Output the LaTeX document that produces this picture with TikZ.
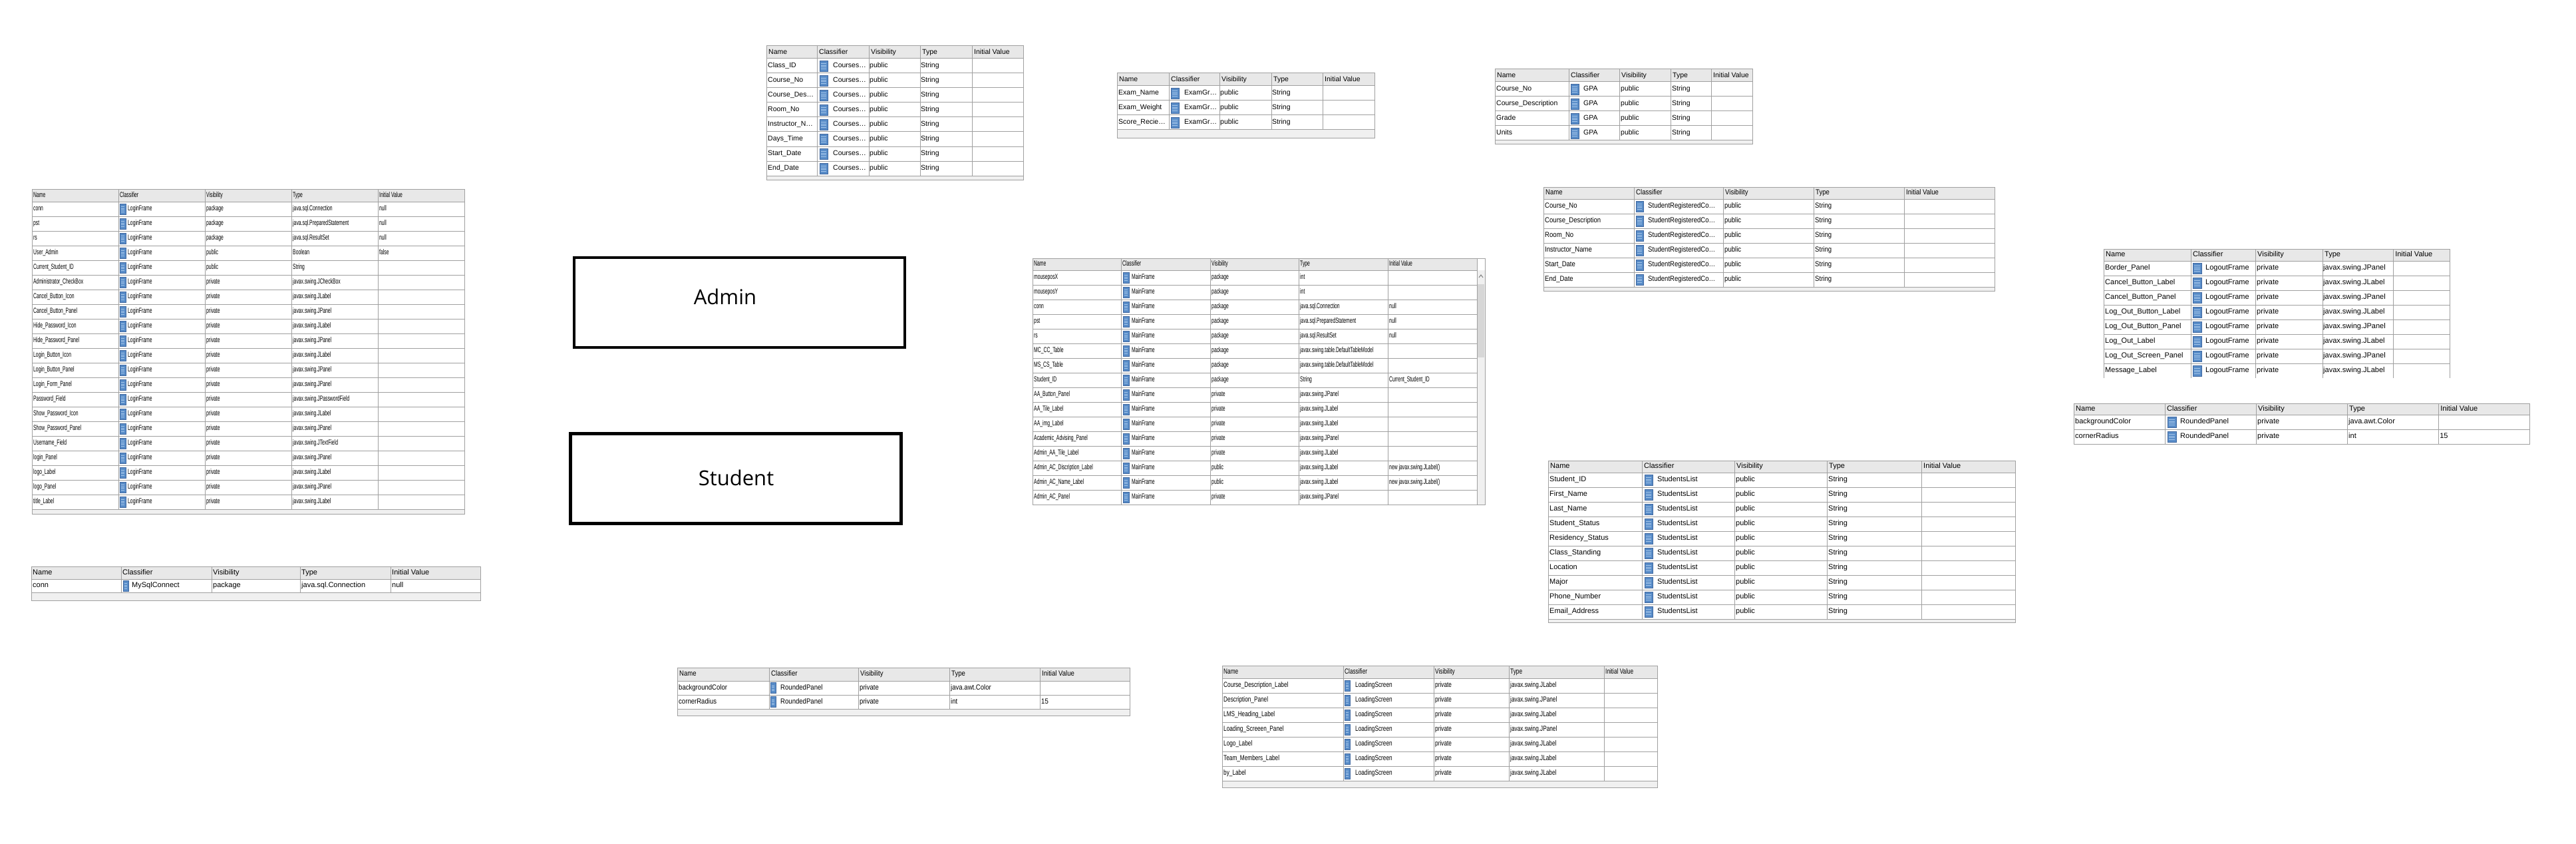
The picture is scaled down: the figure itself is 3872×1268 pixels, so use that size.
\documentclass[tikz,border=0pt]{standalone}
\usepackage{fontspec}
\setmainfont{Liberation Sans}
\newfontfamily\narrowfont[FakeStretch=0.62]{Liberation Sans}
\newfontfamily\loadfont[FakeStretch=0.75]{Liberation Sans}
\newfontfamily\semifont[FakeStretch=0.87]{Liberation Sans}
\newfontfamily\boxfont{Open Sans}
\usepackage{xcolor}
\usepackage{tikz}
\usetikzlibrary{positioning,calc}

\definecolor{gridline}{RGB}{160,160,160}
\definecolor{hdrfill}{RGB}{232,232,232}
\definecolor{stripfill}{RGB}{240,240,240}
\definecolor{thumbfill}{RGB}{215,215,215}
\definecolor{iconblue}{RGB}{88,140,200}
\definecolor{iconedge}{RGB}{64,104,160}
\definecolor{iconline}{RGB}{165,198,234}

\tikzset{
  cell/.style={anchor=west, inner sep=0pt, text height=8pt, text depth=2.5pt},
  hdrcell/.style={fill=hdrfill},
  strip/.style={fill=stripfill},
  gridrule/.style={draw=gridline, line width=1pt},
  classicon/.style={fill=iconblue, draw=iconedge, line width=0.6pt, inner sep=0pt,
    minimum width=#1, minimum height=16pt,
    path picture={\foreach \q in {0.3,0.45,0.6,0.75}
      \draw[iconline, line width=0.9pt]
        ($(path picture bounding box.north west)!\q!(path picture bounding box.south west)+(2pt,0)$) --
        ($(path picture bounding box.north east)!\q!(path picture bounding box.south east)+(-2pt,0)$);}},
  classicon/.default=11pt,
  rolebox/.style={draw=black, line width=4.5pt, minimum width=497pt, minimum height=135pt, inner sep=0pt},
  roletext/.style={font=\boxfont\fontsize{31}{36}\selectfont, inner sep=0pt}
}

\begin{document}
\catcode`\_=12
\begin{tikzpicture}[x=1pt, y=-1pt, font=\fontsize{11}{13}\selectfont]
\useasboundingbox (0,0) rectangle (3872,1268);
\fill[white] (0,0) rectangle (3872,1268);

% LoginFrame fields
\begin{scope}[font=\narrowfont\fontsize{11}{13}\selectfont]
\fill[hdrcell] (48,284) rectangle (698,303);
\fill[strip] (48,765) rectangle (698,772);
\foreach \y in {303,325,...,765} \draw[gridrule] (48,\y) -- (698,\y);
\foreach \x in {178,308,438,568} \draw[gridrule] (\x,284) -- (\x,765);
\draw[gridrule] (48,284) rectangle (698,772);
\foreach \x/\hd [count=\col] in {48/Name,178/Classifier,308/Visibility,438/Type,568/Initial Value}
  \node[cell] (login-h\col) at (\x+2,293.5) {\hd};
\foreach \nm/\vis/\typ/\ini [count=\k] in {
  conn/package/java.sql.Connection/null,
  pst/package/java.sql.PreparedStatement/null,
  rs/package/java.sql.ResultSet/null,
  User_Admin/public/Boolean/false,
  Current_Student_ID/public/String/{},
  Administrator_CheckBox/private/javax.swing.JCheckBox/{},
  Cancel_Button_Icon/private/javax.swing.JLabel/{},
  Cancel_Button_Panel/private/javax.swing.JPanel/{},
  Hide_Password_Icon/private/javax.swing.JLabel/{},
  Hide_Password_Panel/private/javax.swing.JPanel/{},
  Login_Button_Icon/private/javax.swing.JLabel/{},
  Login_Button_Panel/private/javax.swing.JPanel/{},
  Login_Form_Panel/private/javax.swing.JPanel/{},
  Password_Field/private/javax.swing.JPasswordField/{},
  Show_Password_Icon/private/javax.swing.JLabel/{},
  Show_Password_Panel/private/javax.swing.JPanel/{},
  Username_Field/private/javax.swing.JTextField/{},
  login_Panel/private/javax.swing.JPanel/{},
  logo_Label/private/javax.swing.JLabel/{},
  logo_Panel/private/javax.swing.JPanel/{},
  title_Label/private/javax.swing.JLabel/{}}{
  \pgfmathsetmacro\ry{292+22*\k}
  \node[cell] (login-\k-n) at (50,\ry) {\nm};
  \node[classicon=9pt] (login-\k-i) at (184.5,\ry) {};
  \node[cell] (login-\k-c) at (192,\ry) {LoginFrame};
  \node[cell] (login-\k-v) at (310,\ry) {\vis};
  \node[cell] (login-\k-t) at (440,\ry) {\typ};
  \node[cell] (login-\k-x) at (570,\ry) {\ini};
}
\end{scope}

% MySqlConnect fields
\fill[hdrcell] (47,851) rectangle (722,870);
\fill[strip] (47,890) rectangle (722,902);
\foreach \y in {870,890} \draw[gridrule] (47,\y) -- (722,\y);
\foreach \x in {182,318,451,587} \draw[gridrule] (\x,851) -- (\x,890);
\draw[gridrule] (47,851) rectangle (722,902);
\foreach \x/\hd [count=\col] in {47/Name,182/Classifier,318/Visibility,451/Type,587/Initial Value}
  \node[cell] (mysql-h\col) at (\x+2,860.5) {\hd};
\node[cell] (mysql-1-n) at (49,880) {conn};
\node[classicon=8pt] (mysql-1-i) at (189,880) {};
\node[cell] (mysql-1-c) at (198,880) {MySqlConnect};
\node[cell] (mysql-1-v) at (320,880) {package};
\node[cell] (mysql-1-t) at (453,880) {java.sql.Connection};
\node[cell] (mysql-1-x) at (589,880) {null};

% Admin and Student
\node[rolebox] (admin) at (1111.5,454.5) {};
\node[roletext] (admin-text) at (1090,446) {Admin};
\node[rolebox] (student) at (1106,719) {};
\node[roletext] (student-text) at (1106.5,718) {Student};

% CoursesList fields
\begin{scope}[font=\fontsize{10.5}{12}\selectfont]
\fill[hdrcell] (1152,69) rectangle (1538,88);
\fill[strip] (1152,264) rectangle (1538,270);
\foreach \y in {88,110,...,264} \draw[gridrule] (1152,\y) -- (1538,\y);
\foreach \x in {1228,1306,1383,1461} \draw[gridrule] (\x,69) -- (\x,264);
\draw[gridrule] (1152,69) rectangle (1538,270);
\foreach \x/\hd [count=\col] in {1152/Name,1228/Classifier,1306/Visibility,1383/Type,1461/Initial Value}
  \node[cell] (course-h\col) at (\x+3,78.5) {\hd};
\foreach \nm [count=\k] in {Class_ID,Course_No,Course_Des…,Room_No,Instructor_N…,Days_Time,Start_Date,End_Date}{
  \pgfmathsetmacro\ry{77+22*\k}
  \node[cell] (course-\k-n) at (1154,\ry) {\nm};
  \node[classicon=12pt] (course-\k-i) at (1238,\ry) {};
  \node[cell] (course-\k-c) at (1252,\ry) {Courses…};
  \node[cell] (course-\k-v) at (1307,\ry) {public};
  \node[cell] (course-\k-t) at (1384,\ry) {String};
}
\end{scope}

% ExamGrades fields
\begin{scope}[font=\fontsize{10.5}{12}\selectfont]
\fill[hdrcell] (1679,110) rectangle (2066,129);
\fill[strip] (1679,195) rectangle (2066,208);
\foreach \y in {129,151,...,195} \draw[gridrule] (1679,\y) -- (2066,\y);
\foreach \x in {1757,1833,1911,1988} \draw[gridrule] (\x,110) -- (\x,195);
\draw[gridrule] (1679,110) rectangle (2066,208);
\foreach \x/\hd [count=\col] in {1679/Name,1757/Classifier,1833/Visibility,1911/Type,1988/Initial Value}
  \node[cell] (exam-h\col) at (\x+3,119.5) {\hd};
\foreach \nm [count=\k] in {Exam_Name,Exam_Weight,Score_Recie…}{
  \pgfmathsetmacro\ry{118+22*\k}
  \node[cell] (exam-\k-n) at (1681,\ry) {\nm};
  \node[classicon=12pt] (exam-\k-i) at (1766,\ry) {};
  \node[cell] (exam-\k-c) at (1780,\ry) {ExamGr…};
  \node[cell] (exam-\k-v) at (1834,\ry) {public};
  \node[cell] (exam-\k-t) at (1912,\ry) {String};
}
\end{scope}

% GPA fields
\begin{scope}[font=\fontsize{10.5}{12}\selectfont]
\fill[hdrcell] (2247,104) rectangle (2634,123);
\fill[strip] (2247,211) rectangle (2634,216);
\foreach \y in {123,145,...,211} \draw[gridrule] (2247,\y) -- (2634,\y);
\foreach \x in {2358,2434,2511,2572} \draw[gridrule] (\x,104) -- (\x,211);
\draw[gridrule] (2247,104) rectangle (2634,216);
\foreach \x/\hd [count=\col] in {2247/Name,2358/Classifier,2434/Visibility,2511/Type,2572/Initial Value}
  \node[cell] (gpa-h\col) at (\x+3,113.5) {\hd};
\foreach \nm [count=\k] in {Course_No,Course_Description,Grade,Units}{
  \pgfmathsetmacro\ry{112+22*\k}
  \node[cell] (gpa-\k-n) at (2249,\ry) {\nm};
  \node[classicon=12pt] (gpa-\k-i) at (2367,\ry) {};
  \node[cell] (gpa-\k-c) at (2380,\ry) {GPA};
  \node[cell] (gpa-\k-v) at (2436,\ry) {public};
  \node[cell] (gpa-\k-t) at (2513,\ry) {String};
}
\end{scope}

% StudentRegisteredCourses fields
\begin{scope}[font=\semifont\fontsize{11}{13}\selectfont]
\fill[hdrcell] (2320,281) rectangle (2998,299);
\fill[strip] (2320,431) rectangle (2998,437);
\foreach \y in {299,321,...,431} \draw[gridrule] (2320,\y) -- (2998,\y);
\foreach \x in {2456,2590,2726,2862} \draw[gridrule] (\x,281) -- (\x,431);
\draw[gridrule] (2320,281) rectangle (2998,437);
\foreach \x/\hd [count=\col] in {2320/Name,2456/Classifier,2590/Visibility,2726/Type,2862/Initial Value}
  \node[cell] (sreg-h\col) at (\x+3,290) {\hd};
\foreach \nm [count=\k] in {Course_No,Course_Description,Room_No,Instructor_Name,Start_Date,End_Date}{
  \pgfmathsetmacro\ry{288+22*\k}
  \node[cell] (sreg-\k-n) at (2322,\ry) {\nm};
  \node[classicon=11pt] (sreg-\k-i) at (2464.5,\ry) {};
  \node[cell] (sreg-\k-c) at (2477,\ry) {StudentRegisteredCo…};
  \node[cell] (sreg-\k-v) at (2592,\ry) {public};
  \node[cell] (sreg-\k-t) at (2728,\ry) {String};
}
\end{scope}

% MainFrame fields
\begin{scope}[font=\narrowfont\fontsize{11}{13}\selectfont]
\fill[hdrcell] (1552,388) rectangle (2220,406);
\fill[stripfill] (2220,406) rectangle (2232,758);
\fill[thumbfill] (2221,427) rectangle (2231,537);
\draw[gray, line width=1pt] (2223,417) -- (2226,413) -- (2229,417);
\foreach \y in {406,428,...,758} \draw[gridrule] (1552,\y) -- (2220,\y);
\foreach \x in {1685,1819,1952,2086,2220} \draw[gridrule] (\x,388) -- (\x,758);
\draw[gridrule] (1552,388) rectangle (2232,758);
\foreach \x/\hd [count=\col] in {1552/Name,1685/Classifier,1819/Visibility,1952/Type,2086/Initial Value}
  \node[cell] (main-h\col) at (\x+2,397) {\hd};
\foreach \nm/\vis/\typ/\ini [count=\k] in {
  mouseposX/package/int/{},
  mouseposY/package/int/{},
  conn/package/java.sql.Connection/null,
  pst/package/java.sql.PreparedStatement/null,
  rs/package/java.sql.ResultSet/null,
  MC_CC_Table/package/javax.swing.table.DefaultTableModel/{},
  MS_CS_Table/package/javax.swing.table.DefaultTableModel/{},
  Student_ID/package/String/Current_Student_ID,
  AA_Button_Panel/private/javax.swing.JPanel/{},
  AA_Tile_Label/private/javax.swing.JLabel/{},
  AA_img_Label/private/javax.swing.JLabel/{},
  Academic_Advising_Panel/private/javax.swing.JPanel/{},
  Admin_AA_Tile_Label/private/javax.swing.JLabel/{},
  Admin_AC_Discription_Label/public/javax.swing.JLabel/new javax.swing.JLabel(),
  Admin_AC_Name_Label/public/javax.swing.JLabel/new javax.swing.JLabel(),
  Admin_AC_Panel/private/javax.swing.JPanel/{}}{
  \pgfmathsetmacro\ry{395+22*\k}
  \node[cell] (main-\k-n) at (1554,\ry) {\nm};
  \node[classicon=9pt] (main-\k-i) at (1692.5,\ry) {};
  \node[cell] (main-\k-c) at (1701,\ry) {MainFrame};
  \node[cell] (main-\k-v) at (1821,\ry) {\vis};
  \node[cell] (main-\k-t) at (1954,\ry) {\typ};
  \node[cell] (main-\k-x) at (2088,\ry) {\ini};
}
\end{scope}

% LogoutFrame fields
\fill[hdrcell] (3162,374) rectangle (3682,392);
\foreach \y in {392,414,...,546} \draw[gridrule] (3162,\y) -- (3682,\y);
\foreach \x in {3293,3390,3491,3597} \draw[gridrule] (\x,374) -- (\x,568);
\draw[gridrule] (3162,568) -- (3162,374) -- (3682,374) -- (3682,568);
\foreach \x/\hd [count=\col] in {3162/Name,3293/Classifier,3390/Visibility,3491/Type,3597/Initial Value}
  \node[cell] (logout-h\col) at (\x+3,383) {\hd};
\foreach \nm/\typ [count=\k] in {
  Border_Panel/javax.swing.JPanel,
  Cancel_Button_Label/javax.swing.JLabel,
  Cancel_Button_Panel/javax.swing.JPanel,
  Log_Out_Button_Label/javax.swing.JLabel,
  Log_Out_Button_Panel/javax.swing.JPanel,
  Log_Out_Label/javax.swing.JLabel,
  Log_Out_Screen_Panel/javax.swing.JPanel,
  Message_Label/javax.swing.JLabel}{
  \pgfmathsetmacro\ry{381+22*\k}
  \node[cell] (logout-\k-n) at (3164,\ry) {\nm};
  \node[classicon=13pt] (logout-\k-i) at (3302.5,\ry) {};
  \node[cell] (logout-\k-c) at (3315,\ry) {LogoutFrame};
  \node[cell] (logout-\k-v) at (3392,\ry) {private};
  \node[cell] (logout-\k-t) at (3492,\ry) {\typ};
}

% RoundedPanel fields (right)
\fill[hdrcell] (3117,606) rectangle (3802,623);
\foreach \y in {623,645} \draw[gridrule] (3117,\y) -- (3802,\y);
\foreach \x in {3254,3391,3528,3665} \draw[gridrule] (\x,606) -- (\x,667);
\draw[gridrule] (3117,606) rectangle (3802,667);
\foreach \x/\hd [count=\col] in {3117/Name,3254/Classifier,3391/Visibility,3528/Type,3665/Initial Value}
  \node[cell] (rpr-h\col) at (\x+3,614.5) {\hd};
\foreach \nm/\typ/\ini [count=\k] in {backgroundColor/java.awt.Color/{},cornerRadius/int/15}{
  \pgfmathsetmacro\ry{612+22*\k}
  \node[cell] (rpr-\k-n) at (3119,\ry) {\nm};
  \node[classicon=13pt] (rpr-\k-i) at (3264.5,\ry) {};
  \node[cell] (rpr-\k-c) at (3277,\ry) {RoundedPanel};
  \node[cell] (rpr-\k-v) at (3393,\ry) {private};
  \node[cell] (rpr-\k-t) at (3530,\ry) {\typ};
  \node[cell] (rpr-\k-x) at (3667,\ry) {\ini};
}

% StudentsList fields
\fill[hdrcell] (2327,692) rectangle (3029,710);
\fill[strip] (2327,930) rectangle (3029,935);
\foreach \y in {710,732,...,930} \draw[gridrule] (2327,\y) -- (3029,\y);
\foreach \x in {2468,2607,2746,2888} \draw[gridrule] (\x,692) -- (\x,930);
\draw[gridrule] (2327,692) rectangle (3029,935);
\foreach \x/\hd [count=\col] in {2327/Name,2468/Classifier,2607/Visibility,2746/Type,2888/Initial Value}
  \node[cell] (slist-h\col) at (\x+3,701) {\hd};
\foreach \nm [count=\k] in {Student_ID,First_Name,Last_Name,Student_Status,Residency_Status,Class_Standing,Location,Major,Phone_Number,Email_Address}{
  \pgfmathsetmacro\ry{699+22*\k}
  \node[cell] (slist-\k-n) at (2329,\ry) {\nm};
  \node[classicon=12pt] (slist-\k-i) at (2478,\ry) {};
  \node[cell] (slist-\k-c) at (2491,\ry) {StudentsList};
  \node[cell] (slist-\k-v) at (2609,\ry) {public};
  \node[cell] (slist-\k-t) at (2748,\ry) {String};
}

% RoundedPanel fields (bottom)
\begin{scope}[font=\semifont\fontsize{11}{13}\selectfont]
\fill[hdrcell] (1018,1003) rectangle (1698,1023);
\fill[strip] (1018,1065) rectangle (1698,1075);
\foreach \y in {1023,1044,1065} \draw[gridrule] (1018,\y) -- (1698,\y);
\foreach \x in {1156,1290,1427,1563} \draw[gridrule] (\x,1003) -- (\x,1065);
\draw[gridrule] (1018,1003) rectangle (1698,1075);
\foreach \x/\hd [count=\col] in {1018/Name,1156/Classifier,1290/Visibility,1427/Type,1563/Initial Value}
  \node[cell] (rpb-h\col) at (\x+3,1013) {\hd};
\foreach \nm/\typ/\ini [count=\k] in {backgroundColor/java.awt.Color/{},cornerRadius/int/15}{
  \pgfmathsetmacro\ry{1012.5+21*\k}
  \node[cell] (rpb-\k-n) at (1020,\ry) {\nm};
  \node[classicon=8pt] (rpb-\k-i) at (1162,\ry) {};
  \node[cell] (rpb-\k-c) at (1173,\ry) {RoundedPanel};
  \node[cell] (rpb-\k-v) at (1292,\ry) {private};
  \node[cell] (rpb-\k-t) at (1429,\ry) {\typ};
  \node[cell] (rpb-\k-x) at (1565,\ry) {\ini};
}
\end{scope}

% LoadingScreen fields
\begin{scope}[font=\loadfont\fontsize{11}{13}\selectfont]
\fill[hdrcell] (1837,1000) rectangle (2491,1019);
\fill[strip] (1837,1173) rectangle (2491,1183);
\foreach \y in {1019,1041,...,1173} \draw[gridrule] (1837,\y) -- (2491,\y);
\foreach \x in {2019,2155,2268,2411} \draw[gridrule] (\x,1000) -- (\x,1173);
\draw[gridrule] (1837,1000) rectangle (2491,1183);
\foreach \x/\hd [count=\col] in {1837/Name,2019/Classifier,2155/Visibility,2268/Type,2411/Initial Value}
  \node[cell] (load-h\col) at (\x+2,1009.5) {\hd};
\foreach \nm/\typ [count=\k] in {
  Course_Description_Label/javax.swing.JLabel,
  Description_Panel/javax.swing.JPanel,
  LMS_Heading_Label/javax.swing.JLabel,
  Loading_Screeen_Panel/javax.swing.JPanel,
  Logo_Label/javax.swing.JLabel,
  Team_Members_Label/javax.swing.JLabel,
  by_Label/javax.swing.JLabel}{
  \pgfmathsetmacro\ry{1008+22*\k}
  \node[cell] (load-\k-n) at (1839,\ry) {\nm};
  \node[classicon=8pt] (load-\k-i) at (2025,\ry) {};
  \node[cell] (load-\k-c) at (2037,\ry) {LoadingScreen};
  \node[cell] (load-\k-v) at (2157,\ry) {private};
  \node[cell] (load-\k-t) at (2270,\ry) {\typ};
}
\end{scope}
\end{tikzpicture}
\end{document}
